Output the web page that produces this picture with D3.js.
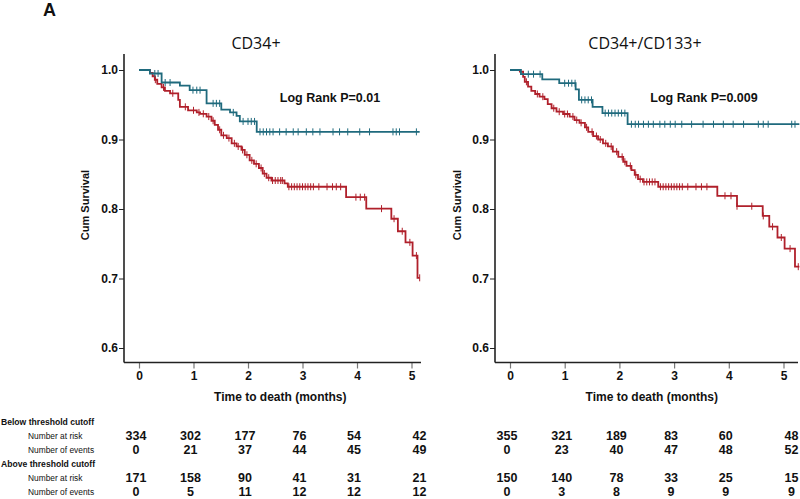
<!DOCTYPE html>
<html><head><meta charset="utf-8">
<script src="https://cdn.jsdelivr.net/npm/d3@7"></script>
<style>
body{margin:0;background:#fff;}
svg{display:block;}
</style></head>
<body>
<svg id="chart" width="800" height="499"></svg>
<script>
// ---------------- data ----------------
const panelTitles = ["CD34+", "CD34+/CD133+"];
const pLabels = ["Log Rank P=0.01", "Log Rank P=0.009"];
const yTicks = [0.6, 0.7, 0.8, 0.9, 1.0];
const xTicks = [0, 1, 2, 3, 4, 5];
const tableCols = [0, 1, 2, 3, 4, 5];

// CD34+ panel
const cd34BelowT = [0,0.20,0.25,0.29,0.335,0.415,0.476,0.57,0.72,0.75,0.90,1.06,1.12,1.24,1.33,1.39,1.45,1.51,1.61,1.70,1.79,1.88,1.94,2.03,2.11,2.20,2.27,2.34,2.43,2.67,2.73,3.80,4.17,4.63,4.75,4.89,5.02,5.11,5.15];
const cd34BelowS = [1.0,0.996,0.991,0.986,0.980,0.975,0.970,0.9665,0.957,0.947,0.942,0.939,0.937,0.933,0.927,0.921,0.914,0.906,0.902,0.8945,0.890,0.885,0.878,0.870,0.865,0.859,0.851,0.845,0.841,0.837,0.832,0.817,0.8005,0.786,0.768,0.752,0.733,0.701,0.701];
const cd34BelowCens = [0.3,0.45,0.62,0.85,1.0,1.1,1.18,1.28,1.36,1.48,1.55,1.65,1.75,1.82,1.9,1.98,2.07,2.15,2.24,2.3,2.38,2.45,2.5,2.55,2.6,2.63,2.75,2.8,2.85,2.9,2.95,3.0,3.05,3.1,3.15,3.2,3.3,3.45,3.55,3.62,3.7,3.98,4.06,4.14,4.45,4.68,4.83,4.97,5.09,5.15];
const cd34AboveT = [0,0.20,0.415,0.75,0.93,1.24,1.51,1.67,1.79,1.85,2.16,5.15];
const cd34AboveS = [1.0,0.995,0.982,0.9775,0.971,0.952,0.943,0.939,0.934,0.926,0.911,0.911];
const cd34AboveCens = [0.29,0.35,0.48,0.57,0.99,1.06,1.12,1.36,1.42,1.48,1.73,1.91,2.0,2.06,2.12,2.22,2.28,2.34,2.40,2.46,2.58,2.70,2.83,2.92,3.07,3.19,3.32,3.56,3.68,3.83,4.05,4.23,4.66,4.72,4.78,5.09];

// CD34+/CD133+ panel
const dblBelowT = [0,0.18,0.24,0.27,0.33,0.39,0.46,0.54,0.63,0.69,0.76,0.85,0.97,1.09,1.18,1.27,1.37,1.43,1.52,1.61,1.70,1.79,1.88,1.98,2.07,2.13,2.22,2.28,2.34,2.43,2.71,3.79,4.15,4.62,4.74,4.89,5.02,5.21,5.29];
const dblBelowS = [1.0,0.9976,0.990,0.983,0.976,0.970,0.9655,0.9616,0.958,0.951,0.945,0.940,0.9367,0.933,0.928,0.924,0.9175,0.911,0.905,0.900,0.8945,0.890,0.8825,0.875,0.868,0.862,0.856,0.849,0.843,0.839,0.832,0.819,0.804,0.790,0.7745,0.759,0.743,0.717,0.717];
const dblBelowCens = [0.3,0.5,0.6,0.8,0.9,1.0,1.05,1.15,1.22,1.3,1.4,1.5,1.58,1.65,1.75,1.85,1.95,2.05,2.1,2.2,2.3,2.38,2.45,2.5,2.55,2.6,2.65,2.75,2.8,2.85,2.9,2.95,3.0,3.05,3.1,3.15,3.25,3.4,3.5,3.6,3.93,4.04,4.15,4.42,4.63,4.8,4.96,5.12,5.27];
const dblAboveT = [0,0.2,0.59,0.9,1.2,1.26,1.51,1.69,2.15,5.29];
const dblAboveS = [1.0,0.994,0.9866,0.981,0.972,0.957,0.947,0.938,0.922,0.922];
const dblAboveCens = [0.335,0.43,0.55,1.0,1.07,1.13,1.19,1.31,1.37,1.43,1.49,1.74,1.80,1.86,1.92,1.98,2.04,2.10,2.22,2.29,2.35,2.44,2.53,2.62,2.74,2.83,2.93,3.02,3.14,3.32,3.53,3.72,3.90,4.08,4.27,4.54,4.63,4.72,5.15,5.21];

// risk table
const rowLabels = ["Below threshold cutoff","Number at risk","Number of events","Above threshold cutoff","Number at risk","Number of events"];
const cd34BelowRisk = [334,302,177,76,54,42];
const cd34BelowEvents = [0,21,37,44,45,49];
const cd34AboveRisk = [171,158,90,41,31,21];
const cd34AboveEvents = [0,5,11,12,12,12];
const dblBelowRisk = [355,321,189,83,60,48];
const dblBelowEvents = [0,23,40,47,48,52];
const dblAboveRisk = [150,140,78,33,25,15];
const dblAboveEvents = [0,3,8,9,9,9];

// ---------------- drawing ----------------
const RED = "#b0202b", BLUE = "#1f6a7d";
const svg = d3.select("#chart");
const boldFont = "'Liberation Sans', Arial, sans-serif";

svg.append("text").attr("x", 43).attr("y", 16).attr("font-family", boldFont)
  .attr("font-weight", "bold").attr("font-size", 18).attr("fill", "#111").text("A");

const panels = [
  { title: panelTitles[0], p: pLabels[0], axisX: 124, r0: 139, r5: 411.5, xEnd: 421, titleX: 256, pX: 330,
    below: {t: cd34BelowT, s: cd34BelowS, c: cd34BelowCens}, above: {t: cd34AboveT, s: cd34AboveS, c: cd34AboveCens},
    table: [cd34BelowRisk, cd34BelowEvents, cd34AboveRisk, cd34AboveEvents], ylabX: 85 },
  { title: panelTitles[1], p: pLabels[1], axisX: 495, r0: 510, r5: 783.5, xEnd: 798, titleX: 645, pX: 704,
    below: {t: dblBelowT, s: dblBelowS, c: dblBelowCens}, above: {t: dblAboveT, s: dblAboveS, c: dblAboveCens},
    table: [dblBelowRisk, dblBelowEvents, dblAboveRisk, dblAboveEvents], ylabX: 457 }
];

const y = d3.scaleLinear().domain([0.6, 1.0]).range([348, 70]);
const axisTop = 54, axisBottom = 362.5;
const labelY = [421.5, 435.5, 449.5, 463.5, 477.5, 491.5];
const rowY = [labelY[1], labelY[2], labelY[4], labelY[5]];

function survAt(tArr, sArr, t) {
  let v = sArr[0];
  for (let i = 0; i < tArr.length; i++) { if (tArr[i] <= t) v = sArr[i]; }
  return v;
}

panels.forEach(pn => {
  const x = d3.scaleLinear().domain([0, 5]).range([pn.r0, pn.r5]);
  const g = svg.append("g");

  // title
  g.append("text").attr("x", pn.titleX).attr("y", 49).attr("text-anchor", "middle")
    .attr("font-family", "'Open Sans', 'Noto Sans', sans-serif").attr("font-size", 16).attr("fill", "#111").text(pn.title);

  // y axis
  const yAxis = d3.axisLeft(y).tickValues(yTicks).tickFormat(d3.format(".1f")).tickSize(5).tickSizeOuter(0);
  const ya = g.append("g").attr("transform", `translate(${pn.axisX},0)`).call(yAxis);
  ya.select(".domain").remove();
  ya.selectAll(".tick line").attr("stroke", "#222").attr("stroke-width", 1);
  ya.selectAll(".tick text").attr("font-family", boldFont).attr("font-weight", "bold")
    .attr("font-size", 12).attr("fill", "#111").attr("x", -6);
  g.append("line").attr("x1", pn.axisX).attr("x2", pn.axisX).attr("y1", axisTop).attr("y2", axisBottom)
    .attr("stroke", "#222").attr("stroke-width", 1.6);

  // x axis
  const xAxis = d3.axisBottom(x).tickValues(xTicks).tickFormat(d3.format("d")).tickSize(6).tickSizeOuter(0);
  const xa = g.append("g").attr("transform", `translate(0,${axisBottom})`).call(xAxis);
  xa.select(".domain").remove();
  xa.selectAll(".tick line").attr("stroke", "#777").attr("stroke-width", 1.2);
  xa.selectAll(".tick text").attr("font-family", boldFont).attr("font-weight", "bold")
    .attr("font-size", 12).attr("fill", "#111").attr("dy", "0.95em").attr("y", 6);
  g.append("line").attr("x1", pn.axisX).attr("x2", pn.xEnd).attr("y1", axisBottom).attr("y2", axisBottom)
    .attr("stroke", "#222").attr("stroke-width", 1.6);

  // axis labels
  g.append("text").attr("x", (pn.r0 + pn.r5) / 2 + 5).attr("y", 401).attr("text-anchor", "middle")
    .attr("font-family", boldFont).attr("font-weight", "bold").attr("font-size", 12).attr("fill", "#111")
    .text("Time to death (months)");
  g.append("text").attr("transform", `translate(${pn.ylabX + 4},205) rotate(-90)`).attr("text-anchor", "middle")
    .attr("font-family", boldFont).attr("font-weight", "bold").attr("font-size", 11).attr("fill", "#111")
    .text("Cum Survival");

  // p label
  g.append("text").attr("x", pn.pX).attr("y", 102).attr("text-anchor", "middle")
    .attr("font-family", boldFont).attr("font-weight", "bold").attr("font-size", 12.5).attr("fill", "#111").text(pn.p);

  // curves: red (below) first, blue (above) on top
  [[pn.below, RED], [pn.above, BLUE]].forEach(([grp, col]) => {
    const pts = grp.t.map((t, i) => [x(t), y(grp.s[i])]);
    g.append("path").attr("d", d3.line().curve(d3.curveStepAfter)(pts))
      .attr("fill", "none").attr("stroke", col).attr("stroke-width", 1.8);
    g.selectAll(null).data(grp.c).enter().append("line")
      .attr("x1", d => x(d)).attr("x2", d => x(d))
      .attr("y1", d => y(survAt(grp.t, grp.s, d)) - 3.5)
      .attr("y2", d => y(survAt(grp.t, grp.s, d)) + 3.5)
      .attr("stroke", col).attr("stroke-width", 1);
  });

  // risk table numbers
  pn.table.forEach((row, ri) => {
    g.selectAll(null).data(row).enter().append("text")
      .attr("x", (d, i) => i < 5 ? x(tableCols[i]) - 3 : x(tableCols[i]) + 8)
      .attr("y", rowY[ri] + 4.3).attr("text-anchor", "middle")
      .attr("font-family", boldFont).attr("font-weight", "bold").attr("font-size", 12.5).attr("fill", "#111")
      .text(d => d);
  });
});

// row labels
rowLabels.forEach((lab, i) => {
  const header = (i === 0 || i === 3);
  svg.append("text").attr("x", header ? 1 : 28).attr("y", labelY[i] + 3)
    .attr("font-family", boldFont).attr("font-weight", header ? "bold" : "normal")
    .attr("font-size", header ? 8.6 : 8.4).attr("fill", "#111").text(lab);
});
</script>
</body></html>
